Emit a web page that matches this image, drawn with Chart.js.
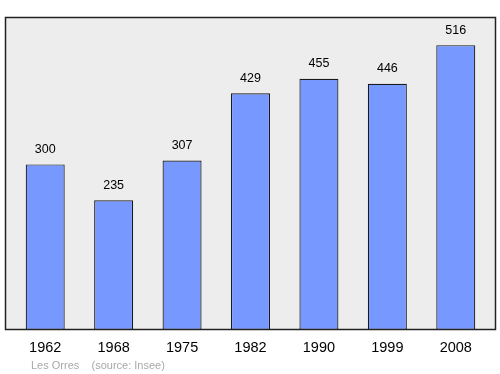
<!DOCTYPE html>
<html>
<head>
<meta charset="utf-8">
<script src="https://cdn.jsdelivr.net/npm/chart.js@4/dist/chart.umd.min.js"></script>
<style>
  html, body { margin: 0; padding: 0; background: #fff; }
  #wrap { width: 500px; height: 374px; position: relative; }
</style>
</head>
<body>
<div id="wrap"><canvas id="chart" width="500" height="374"></canvas></div>
<script>
var years = ["1962", "1968", "1975", "1982", "1990", "1999", "2008"];
var population = [300, 235, 307, 429, 455, 446, 516];
var footerText = "Les Orres    (source: Insee)";

// fond gris + cadre, étiquettes de valeurs et d'années
var decorPlugin = {
  id: "decor",
  beforeDraw: function(chart) {
    var ctx = chart.ctx;
    var a = chart.chartArea;
    ctx.save();
    ctx.fillStyle = "#ededed";
    ctx.fillRect(5.5, a.top + 0.5, 490, a.bottom - a.top - 1);
    ctx.restore();
  },
  afterDraw: function(chart) {
    var ctx = chart.ctx;
    var a = chart.chartArea;
    var xs = chart.scales.x;
    var ys = chart.scales.y;
    ctx.save();
    ctx.strokeStyle = "#222";
    ctx.lineWidth = 1.5;
    ctx.strokeRect(5.5, a.top + 0.5, 490, a.bottom - a.top - 1);

    ctx.fillStyle = "#000";
    ctx.textAlign = "center";
    ctx.textBaseline = "middle";
    ctx.font = "12.5px 'Liberation Sans', Arial, sans-serif";
    population.forEach(function(v, i) {
      ctx.fillText(String(v), xs.getPixelForValue(i), ys.getPixelForValue(v) - 15);
    });

    ctx.font = "14.5px 'Liberation Sans', Arial, sans-serif";
    years.forEach(function(y, i) {
      ctx.fillText(y, xs.getPixelForValue(i), a.bottom + 18);
    });

    ctx.fillStyle = "#a8a8a8";
    ctx.textAlign = "left";
    ctx.font = "11px 'Liberation Sans', Arial, sans-serif";
    ctx.fillText(footerText, 31, a.bottom + 36);
    ctx.restore();
  }
};

new Chart(document.getElementById("chart").getContext("2d"), {
  type: "bar",
  data: {
    labels: years,
    datasets: [{
      data: population,
      backgroundColor: "#7799ff",
      borderColor: "#1a1a1a",
      borderWidth: 1.2,
      borderSkipped: false,
      barPercentage: 0.57,
      categoryPercentage: 1
    }]
  },
  options: {
    responsive: false,
    animation: false,
    devicePixelRatio: 1,
    layout: { padding: { left: 11, right: 10, top: 17, bottom: 44 } },
    plugins: { legend: { display: false }, tooltip: { enabled: false } },
    scales: {
      x: { display: false, offset: true },
      y: { display: false, min: 0, max: 567 }
    }
  },
  plugins: [decorPlugin]
});
</script>
</body>
</html>
